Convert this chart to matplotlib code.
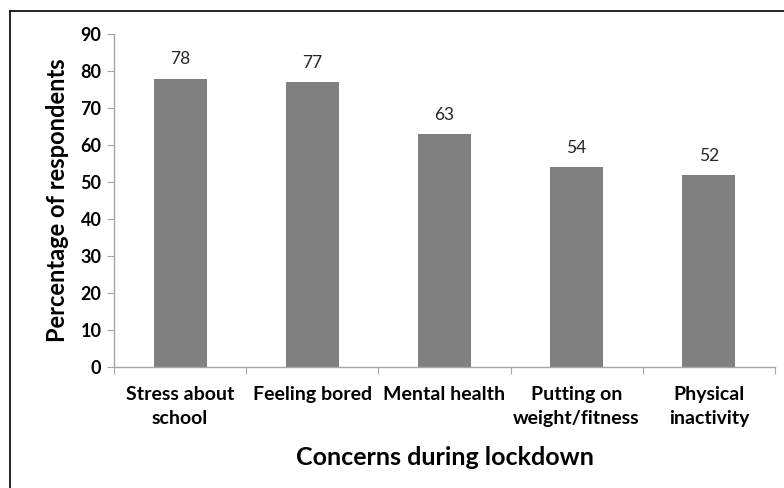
import numpy as np
import matplotlib
matplotlib.use("Agg")
import matplotlib.pyplot as plt
from matplotlib.lines import Line2D

# lockdown concerns survey
CATEGORIES = [
    "Stress about\nschool",
    "Feeling bored",
    "Mental health",
    "Putting on\nweight/fitness",
    "Physical\ninactivity",
]
PERCENTAGES = [78, 77, 63, 54, 52]
Y_TICKS = list(range(0, 91, 10))

BAR_COLOR = "#808080"
AXIS_COLOR = "#a6a6a6"

plt.rcParams["font.family"] = ["Lato", "DejaVu Sans"]

fig = plt.figure(figsize=(7.84, 4.88), dpi=100)
ax = fig.add_axes([0.1454, 0.248, 0.843, 0.682])

x = np.arange(len(CATEGORIES))
bars = ax.bar(x, PERCENTAGES, width=0.4, color=BAR_COLOR)

for xi, v in zip(x, PERCENTAGES):
    ax.annotate(str(v), (xi, v), xytext=(0, 8), textcoords="offset points",
                ha="center", va="bottom", fontsize=12.5, color="#262626")

ax.set_xlim(-0.5, len(CATEGORIES) - 0.5)
ax.set_ylim(0, 90)
ax.set_yticks(Y_TICKS)
ax.set_yticklabels([str(t) for t in Y_TICKS], fontsize=13, fontweight="bold")

# excel style: tick marks between categories, labels under the bars
ax.set_xticks(np.arange(len(CATEGORIES) + 1) - 0.5)
ax.set_xticklabels([])
ax.set_xticks(x, minor=True)
ax.set_xticklabels(CATEGORIES, minor=True, fontsize=14, fontweight="bold",
                   linespacing=1.45)
ax.tick_params(axis="x", which="minor", length=0, pad=14)
ax.tick_params(axis="x", which="major", length=5, color=AXIS_COLOR, direction="out")
ax.tick_params(axis="y", length=5, color=AXIS_COLOR, pad=4)

for side in ("top", "right"):
    ax.spines[side].set_visible(False)
for side in ("left", "bottom"):
    ax.spines[side].set_color(AXIS_COLOR)
    ax.spines[side].set_linewidth(1.0)

ax.set_ylabel("Percentage of respondents", fontsize=17, fontweight="bold", va="center")
ax.set_xlabel("Concerns during lockdown", fontsize=18, fontweight="bold", va="center")
ax.yaxis.set_label_coords(-0.086, 0.5)
ax.xaxis.set_label_coords(0.5, -0.273)

# chart frame, only top and left edges show
fig.add_artist(Line2D([0.0128, 1.0], [0.9775, 0.9775], color="black", lw=1.2,
                      transform=fig.transFigure))
fig.add_artist(Line2D([0.0128, 0.0128], [0.0, 0.9775], color="black", lw=1.2,
                      transform=fig.transFigure))

fig.savefig("out.png", dpi=100)
